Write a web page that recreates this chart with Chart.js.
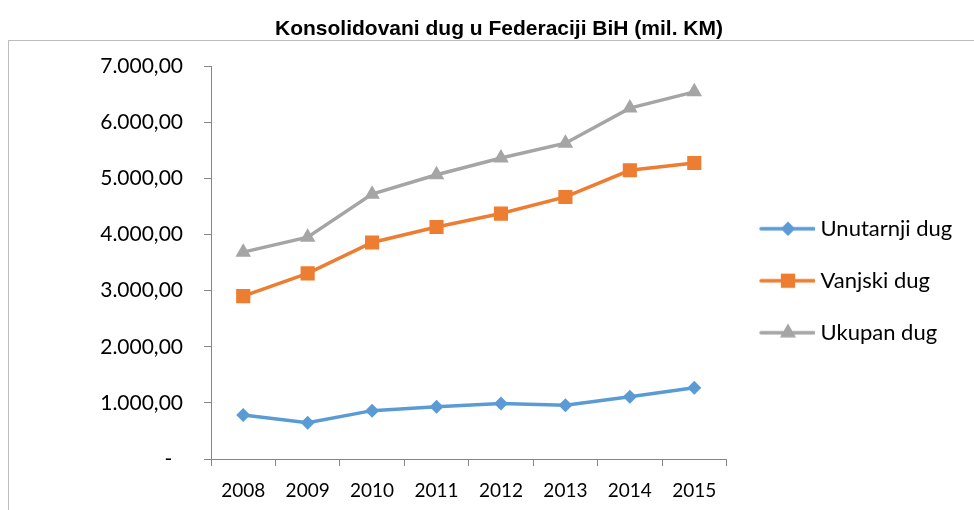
<!DOCTYPE html>
<html>
<head>
<meta charset="utf-8">
<script src="https://cdn.jsdelivr.net/npm/chart.js@4.4.1/dist/chart.umd.min.js"></script>
<style>
  html, body { margin: 0; padding: 0; background: #fff; }
  #wrap { width: 974px; height: 510px; }
</style>
</head>
<body>
<div id="wrap"><canvas id="dugChart" width="974" height="510"></canvas></div>
<script>
// podaci
const godine = ["2008", "2009", "2010", "2011", "2012", "2013", "2014", "2015"];
const unutarnjiDug = [783, 646, 862, 931, 990, 958, 1108, 1268];
const vanjskiDug = [2903, 3307, 3858, 4135, 4374, 4670, 5145, 5275];
const ukupanDug = [3686, 3953, 4720, 5066, 5364, 5628, 6253, 6543];
const yTicks = [0, 1000, 2000, 3000, 4000, 5000, 6000, 7000];

const plava = "#5B9BD5";
const narandzasta = "#ED7D31";
const siva = "#A5A5A5";
const osa = "#868686";

function formatKM(v) {
    if (v === 0) return "-  ";
    const cijeli = Math.round(v).toString().replace(/\B(?=(\d{3})+(?!\d))/g, ".");
    return cijeli + ",00";
}

// ikonica za legendu: linija + marker
function legendIcon(color, style, radius) {
    const c = document.createElement("canvas");
    c.width = 64;
    c.height = 22;
    const g = c.getContext("2d");
    g.strokeStyle = color;
    g.lineWidth = 3.5;
    g.lineCap = "round";
    g.beginPath();
    g.moveTo(10, 11);
    g.lineTo(63, 11);
    g.stroke();
    g.fillStyle = color;
    Chart.helpers.drawPoint(g, { pointStyle: style, radius: radius, borderWidth: 0 }, 37, 11);
    g.fill();
    return c;
}

// okvir oko grafika
const okvir = {
    id: "okvir",
    beforeDraw(chart) {
        const ctx = chart.ctx;
        ctx.save();
        ctx.strokeStyle = "#BDBDBD";
        ctx.lineWidth = 1;
        ctx.strokeRect(8.5, 40.5, 1000, 500);
        ctx.restore();
    }
};

const serije = [
    { label: "Unutarnji dug", data: unutarnjiDug, color: plava, style: "rectRot", r: 7 },
    { label: "Vanjski dug", data: vanjskiDug, color: narandzasta, style: "rect", r: 10 },
    { label: "Ukupan dug", data: ukupanDug, color: siva, style: "triangle", r: 9 }
];

const ctx = document.getElementById("dugChart").getContext("2d");
new Chart(ctx, {
    type: "line",
    data: {
        labels: godine,
        datasets: serije.map((s) => ({
            label: s.label,
            data: s.data,
            borderColor: s.color,
            backgroundColor: s.color,
            borderWidth: 3.5,
            pointStyle: s.style,
            pointRadius: s.r,
            pointHoverRadius: s.r,
            pointBorderWidth: 0,
            tension: 0,
            fill: false
        }))
    },
    options: {
        responsive: false,
        animation: false,
        layout: { padding: { left: 44, right: 20, top: 0, bottom: 0 } },
        plugins: {
            title: {
                display: true,
                text: "Konsolidovani dug u Federaciji BiH (mil. KM)",
                color: "#000",
                font: { family: "'Liberation Sans', Arial, sans-serif", size: 21, weight: "bold" },
                padding: { top: 17, bottom: 24 }
            },
            legend: {
                position: "right",
                title: {
                    display: true,
                    text: " ",
                    color: "#000",
                    font: { size: 12 },
                    padding: { top: 37, bottom: 0 }
                },
                labels: {
                    usePointStyle: true,
                    pointStyleWidth: 53,
                    padding: 30,
                    color: "#000",
                    font: { family: "Lato, sans-serif", size: 22 },
                    generateLabels(chart) {
                        return serije.map((s, i) => ({
                            text: s.label,
                            datasetIndex: i,
                            pointStyle: legendIcon(s.color, s.style, s.r),
                            fillStyle: s.color,
                            strokeStyle: s.color,
                            fontColor: "#000",
                            lineWidth: 0,
                            hidden: false
                        }));
                    }
                }
            },
            tooltip: { enabled: false }
        },
        scales: {
            x: {
                offset: true,
                grid: { offset: true, drawOnChartArea: false, color: osa, tickLength: 7 },
                border: { color: osa, width: 1 },
                ticks: { color: "#000", padding: 13, font: { family: "Lato, sans-serif", size: 19 } },
                afterFit(scale) { scale.height = 51; }
            },
            y: {
                min: 0,
                max: 7000,
                afterBuildTicks(scale) { scale.ticks = yTicks.map((v) => ({ value: v })); },
                grid: { drawOnChartArea: false, color: osa, tickLength: 7 },
                border: { color: osa, width: 1 },
                ticks: {
                    color: "#000",
                    padding: 21,
                    font: { family: "Lato, sans-serif", size: 21 },
                    callback: (v) => formatKM(v)
                },
                afterFit(scale) { scale.width = 211 - 44; }
            }
        }
    },
    plugins: [okvir]
});
</script>
</body>
</html>
